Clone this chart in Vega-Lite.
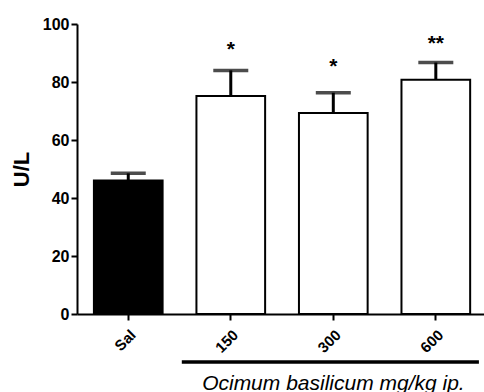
{
  "$schema": "https://vega.github.io/schema/vega-lite/v6.json",
  "autosize": {"type": "none"},
  "padding": {"left": 77, "top": 24, "right": 0, "bottom": 78},
  "width": 407,
  "height": 290,
  "background": "white",
  "config": {
    "view": {"stroke": null},
    "font": "Liberation Sans"
  },
  "resolve": {"scale": {"x": "independent"}},
  "layer": [
    {
      "data": {
        "values": [
          {"group": "Sal", "treat": "Sal", "mean": 46, "upper": 48.5, "sig": "", "sigY": 0},
          {"group": "150", "treat": "Ocimum", "mean": 75.2, "upper": 84, "sig": "*", "sigY": 89},
          {"group": "300", "treat": "Ocimum", "mean": 69.3, "upper": 76.3, "sig": "*", "sigY": 83},
          {"group": "600", "treat": "Ocimum", "mean": 80.8, "upper": 86.7, "sig": "**", "sigY": 91.2}
        ]
      },
      "encoding": {
        "x": {
          "field": "group",
          "type": "nominal",
          "sort": ["Sal", "150", "300", "600"],
          "scale": {"type": "band", "paddingInner": 0.33, "paddingOuter": 0.15, "align": 0.55},
          "axis": {
            "title": null,
            "labelAngle": -45,
            "labelFontSize": 15,
            "labelFontWeight": "bold",
            "labelColor": "black",
            "labelPadding": 7,
            "tickSize": 6,
            "tickWidth": 2,
            "tickColor": "black",
            "domainWidth": 2,
            "domainColor": "black"
          }
        }
      },
      "layer": [
        {
          "mark": {"type": "rule", "color": "black", "strokeWidth": 3},
          "encoding": {
            "y": {"field": "mean", "type": "quantitative"},
            "y2": {"field": "upper"}
          }
        },
        {
          "mark": {"type": "tick", "color": "black", "size": 35, "thickness": 3.5, "orient": "horizontal"},
          "encoding": {
            "y": {"field": "upper", "type": "quantitative"}
          }
        },
        {
          "mark": {"type": "bar", "stroke": "black", "strokeWidth": 2},
          "encoding": {
            "y": {
              "field": "mean",
              "type": "quantitative",
              "scale": {"domain": [0, 100], "nice": false},
              "axis": {
                "title": "U/L",
                "titleFontSize": 22,
                "titleFontWeight": "bold",
                "titleColor": "black",
                "titlePadding": 9,
                "values": [0, 20, 40, 60, 80, 100],
                "labelFontSize": 16,
                "labelFontWeight": "bold",
                "labelColor": "black",
                "labelPadding": 2,
                "tickSize": 6,
                "tickWidth": 2,
                "tickColor": "black",
                "domainWidth": 2,
                "domainColor": "black",
                "grid": false
              }
            },
            "fill": {
              "field": "treat",
              "type": "nominal",
              "scale": {"domain": ["Sal", "Ocimum"], "range": ["black", "white"]},
              "legend": null
            }
          }
        },
        {
          "mark": {"type": "text", "fontSize": 21, "fontWeight": "bold", "baseline": "alphabetic", "color": "black"},
          "encoding": {
            "y": {"field": "sigY", "type": "quantitative"},
            "text": {"field": "sig"}
          }
        }
      ]
    },
    {
      "data": {
        "values": [
          {"kind": "line", "ax": 1.03, "ax2": 3.95, "ay": -16.55, "label": ""},
          {"kind": "text", "ax": 2.52, "ax2": 2.52, "ay": -26.2, "label": "Ocimum basilicum mg/kg ip."}
        ]
      },
      "encoding": {
        "x": {"field": "ax", "type": "quantitative", "scale": {"domain": [0, 4], "nice": false, "zero": false}, "axis": null}
      },
      "layer": [
        {
          "transform": [{"filter": "datum.kind === 'line'"}],
          "mark": {"type": "rule", "color": "black", "strokeWidth": 3.5},
          "encoding": {
            "x2": {"field": "ax2"},
            "y": {"field": "ay", "type": "quantitative"}
          }
        },
        {
          "transform": [{"filter": "datum.kind === 'text'"}],
          "mark": {"type": "text", "fontSize": 21, "fontStyle": "italic", "baseline": "alphabetic", "align": "center", "color": "black"},
          "encoding": {
            "y": {"field": "ay", "type": "quantitative"},
            "text": {"field": "label"}
          }
        }
      ]
    }
  ]
}
